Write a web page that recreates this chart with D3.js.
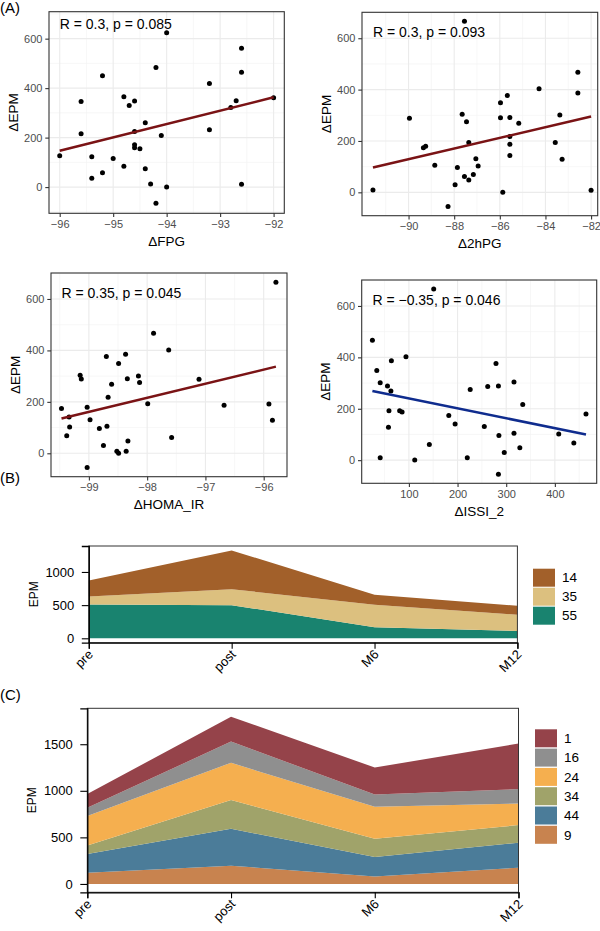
<!DOCTYPE html>
<html><head><meta charset="utf-8">
<script src="https://cdn.jsdelivr.net/npm/d3@7"></script>
<style>
body{margin:0;background:#fff}
svg{display:block}
text{font-family:"Liberation Sans", Arial, Helvetica, sans-serif}
</style>
</head><body>
<svg id="chart" width="600" height="931"></svg>
<script>
// ---------------- DATA ----------------
// Panel A scatter data (ΔEPM vs clinical deltas)
const fpgX = [-96.0,-95.6,-95.6,-95.4,-95.4,-95.2,-95.2,-95.0,-94.8,-94.8,-94.7,-94.6,-94.6,-94.6,-94.6,-94.5,-94.4,-94.4,-94.3,-94.2,-94.2,-94.1,-94.0,-94.0,-93.2,-93.2,-92.8,-92.7,-92.6,-92.6,-92.6,-92.0];
const fpgY = [127,346,216,123,36,450,58,116,365,84,330,348,225,171,159,155,260,74,12,483,-65,209,624,0,419,232,322,349,561,464,11,361];
const hpgX = [-91.56,-89.96,-89.35,-89.25,-88.85,-88.27,-87.96,-87.86,-87.65,-87.55,-87.55,-87.46,-87.36,-87.36,-87.16,-87.05,-86.95,-85.97,-85.97,-85.87,-85.67,-85.56,-85.56,-85.56,-85.56,-85.17,-84.28,-83.57,-83.37,-83.27,-82.58,-82.58,-82.0];
const hpgY = [9,288,174,179,105,-55,30,97,304,666,62,275,194,48,69,131,103,349,290,0,377,291,217,187,143,269,403,194,301,129,468,387,8];
const homaX = [-99.47,-99.38,-99.34,-99.33,-99.15,-99.13,-99.03,-98.98,-98.82,-98.75,-98.70,-98.69,-98.67,-98.61,-98.52,-98.49,-98.49,-98.37,-98.36,-98.34,-98.33,-98.15,-98.13,-97.99,-97.89,-97.63,-97.58,-97.11,-96.68,-95.91,-95.85,-95.79,-99.03];
const homaY = [174,68,141,102,303,289,179,130,96,30,376,105,218,268,8,349,0,385,8,290,48,301,275,193,467,402,61,288,187,192,128,665,-55];
const issiX = [25,34,41,41,56,59,58,63,64,81,86,94,112,142,151,182,195,220,226,255,262,279,284,285,296,316,316,328,334,408,439,464,284];
const issiY = [467,349,301,9,289,192,128,269,387,192,187,402,1,61,666,174,141,9,275,131,287,376,289,96,30,304,105,48,217,102,67,180,-55];

// fitted line values (ΔEPM at min and max of x)
const fpgFit = [147, 363];
const hpgFit = [97, 295];
const homaFit = [135, 337];
const issiFit = [269, 100];

const corrLabels = ["R = 0.3, p = 0.085", "R = 0.3, p = 0.093", "R = 0.35, p = 0.045", "R = \u22120.35, p = 0.046"];
const xTitles = ["\u0394FPG", "\u03942hPG", "\u0394HOMA_IR", "\u0394ISSI_2"];
const fpgTicks = [-96,-95,-94,-93,-92];
const hpgTicks = [-90,-88,-86,-84,-82];
const homaTicks = [-99,-98,-97,-96];
const issiTicks = [100,200,300,400];
const epmTicks = [0,200,400,600];

// Panels B & C
const timepoints = ["pre","post","M6","M12"];
const bKeys = ["55","35","14"];          // stacking order bottom -> top
const b55 = [510, 500, 165, 110];
const b35 = [120, 240, 340, 245];
const b14 = [240, 585, 150, 135];
const bLegend = ["14","35","55"];

const cKeys = ["9","44","34","24","16","1"];
const c9  = [121, 196, 79, 175];
const c44 = [200, 397, 210, 268];
const c34 = [93, 307, 197, 189];
const c24 = [315, 400, 342, 232];
const c16 = [89, 228, 133, 154];
const c1  = [147, 268, 289, 489];
const cLegend = ["1","16","24","34","44","9"];
const bTicks = [0,500,1000];
const cTicks = [0,500,1000,1500];

// ---------------- DRAW ----------------
const svg = d3.select("#chart");
const minus = s => String(s).replace("-", "\u2212");

function scatter(p) {
  const x = d3.scaleLinear().domain(p.xDomain).range([p.left, p.right]);
  const y = d3.scaleLinear().domain(p.yDomain).range([p.bottom, p.top]);
  const g = svg.append("g");
  g.append("rect").attr("x", p.left).attr("y", p.top).attr("width", p.right - p.left)
    .attr("height", p.bottom - p.top).attr("fill", "#fff");
  const minor = (ticks, dom) => {
    const step = ticks[1] - ticks[0], out = [];
    for (let t = ticks[0] - step * 3.5; t <= dom[1]; t += step) if (t >= dom[0]) out.push(t);
    return out;
  };
  const xMinor = minor(p.xTicks, p.xDomain), yMinor = minor(p.yTicks, p.yDomain);
  g.selectAll(".vmin").data(xMinor).join("line").attr("x1", d => x(d)).attr("x2", d => x(d))
    .attr("y1", p.top).attr("y2", p.bottom).attr("stroke", "#F3F3F3").attr("stroke-width", 0.7);
  g.selectAll(".hmin").data(yMinor).join("line").attr("y1", d => y(d)).attr("y2", d => y(d))
    .attr("x1", p.left).attr("x2", p.right).attr("stroke", "#F3F3F3").attr("stroke-width", 0.7);
  g.selectAll(".vmaj").data(p.xTicks).join("line").attr("x1", d => x(d)).attr("x2", d => x(d))
    .attr("y1", p.top).attr("y2", p.bottom).attr("stroke", "#EBEBEB").attr("stroke-width", 1.1);
  g.selectAll(".hmaj").data(p.yTicks).join("line").attr("y1", d => y(d)).attr("y2", d => y(d))
    .attr("x1", p.left).attr("x2", p.right).attr("stroke", "#EBEBEB").attr("stroke-width", 1.1);

  g.selectAll("circle").data(d3.range(p.xs.length)).join("circle")
    .attr("cx", i => x(p.xs[i])).attr("cy", i => y(p.ys[i])).attr("r", 2.5).attr("fill", "#000");

  const ext = d3.extent(p.xs);
  g.append("line").attr("x1", x(ext[0])).attr("y1", y(p.fit[0])).attr("x2", x(ext[1])).attr("y2", y(p.fit[1]))
    .attr("stroke", p.fitColor).attr("stroke-width", 2.5);

  g.append("text").attr("x", x(ext[0])).attr("y", y(p.labelY)).attr("dy", "0.35em")
    .attr("font-size", 14).attr("fill", "#000").text(p.label);

  g.append("rect").attr("x", p.left).attr("y", p.top).attr("width", p.right - p.left)
    .attr("height", p.bottom - p.top).attr("fill", "none").attr("stroke", "#333").attr("stroke-width", 1.1);

  const ax = g.append("g").attr("transform", `translate(0,${p.bottom})`)
    .call(d3.axisBottom(x).tickValues(p.xTicks).tickSize(3.7).tickPadding(2.9).tickFormat(minus));
  const ay = g.append("g").attr("transform", `translate(${p.left},0)`)
    .call(d3.axisLeft(y).tickValues(p.yTicks).tickSize(3.7).tickPadding(2.9).tickFormat(minus));
  [ax, ay].forEach(a => {
    a.select(".domain").remove();
    a.selectAll(".tick line").attr("stroke", "#333").attr("stroke-width", 1.1);
    a.selectAll(".tick text").attr("fill", "#4D4D4D").attr("font-size", 11)
      .style("font-family", '"Liberation Sans", Arial, sans-serif');
  });
  g.append("text").attr("x", (p.left + p.right) / 2).attr("y", p.bottom + 28).attr("dy", "0.35em")
    .attr("text-anchor", "middle").attr("font-size", 13.5).text(p.xTitle);
  g.append("text").attr("transform", `translate(${p.left - 36},${(p.top + p.bottom) / 2}) rotate(-90)`)
    .attr("dy", "0.35em").attr("text-anchor", "middle").attr("font-size", 13.5).text("\u0394EPM");
}

scatter({left: 49, right: 284.3, top: 11.7, bottom: 213.3, xDomain: [-96.2, -91.8], yDomain: [-106, 709],
  xs: fpgX, ys: fpgY, fit: fpgFit, fitColor: "#7A1315", xTicks: fpgTicks, yTicks: epmTicks,
  label: corrLabels[0], labelY: 660, xTitle: xTitles[0]});
scatter({left: 362, right: 597.7, top: 12.3, bottom: 215.7, xDomain: [-92.04, -81.71], yDomain: [-91, 701],
  xs: hpgX, ys: hpgY, fit: hpgFit, fitColor: "#7A1315", xTicks: hpgTicks, yTicks: epmTicks,
  label: corrLabels[1], labelY: 623, xTitle: xTitles[1]});
scatter({left: 51, right: 287, top: 273, bottom: 476.7, xDomain: [-99.65, -95.6], yDomain: [-91, 701],
  xs: homaX, ys: homaY, fit: homaFit, fitColor: "#7A1315", xTicks: homaTicks, yTicks: epmTicks,
  label: corrLabels[2], labelY: 623, xTitle: xTitles[2]});
scatter({left: 361.7, right: 596.7, top: 280, bottom: 483.3, xDomain: [3, 486], yDomain: [-90, 701],
  xs: issiX, ys: issiY, fit: issiFit, fitColor: "#0F2C8E", xTicks: issiTicks, yTicks: epmTicks,
  label: corrLabels[3], labelY: 623, xTitle: xTitles[3]});

function stacked(p) {
  const x = d3.scalePoint().domain(timepoints).range([p.left, p.right]).padding(0);
  const rows = timepoints.map((t, i) => {
    const r = {t};
    p.keys.forEach((k, j) => r[k] = p.values[j][i]);
    return r;
  });
  const series = d3.stack().keys(p.keys)(rows);
  const maxV = d3.max(series[series.length - 1], d => d[1]);
  const y = d3.scaleLinear().domain([-0.05 * maxV, 1.05 * maxV]).range([p.bottom, p.top]);
  const g = svg.append("g");
  const area = d3.area().x(d => x(d.data.t)).y0(d => y(d[0])).y1(d => y(d[1]));
  g.selectAll("path.layer").data(series).join("path").attr("class", "layer")
    .attr("d", area).attr("fill", d => p.colors[d.key]);
  g.append("rect").attr("x", p.left).attr("y", p.top).attr("width", p.right - p.left)
    .attr("height", p.bottom - p.top).attr("fill", "none").attr("stroke", "#333").attr("stroke-width", 1);

  const ay = g.append("g").attr("transform", `translate(${p.left},0)`)
    .call(d3.axisLeft(y).tickValues(p.yTicks).tickSize(7).tickPadding(7.5).tickFormat(d3.format("d")));
  ay.select(".domain").attr("stroke", "#000").attr("stroke-width", 1.3);
  ay.selectAll(".tick line").attr("stroke", "#000").attr("stroke-width", 1.1);
  ay.selectAll(".tick text").attr("fill", "#000").attr("font-size", 13)
    .style("font-family", '"Liberation Sans", Arial, sans-serif');

  const ax = g.append("g").attr("transform", `translate(0,${p.bottom})`)
    .call(d3.axisBottom(x).tickSize(6).tickPadding(0));
  ax.select(".domain").attr("stroke", "#000").attr("stroke-width", 1.3);
  ax.selectAll(".tick line").attr("stroke", "#000").attr("stroke-width", 1.1);
  ax.selectAll(".tick text").attr("fill", "#000").attr("font-size", 13)
    .style("font-family", '"Liberation Sans", Arial, sans-serif')
    .attr("text-anchor", "end").attr("dy", null).attr("y", null)
    .attr("transform", "translate(4.5,12.5) rotate(-45)");

  g.append("text").attr("transform", `translate(${p.titleX},${(p.top + p.bottom) / 2}) rotate(-90)`)
    .attr("dy", "0.35em").attr("text-anchor", "middle").attr("font-size", 12).text("EPM");

  const lg = g.append("g");
  p.legend.forEach((k, i) => {
    const ky = p.legTop + i * p.legStep;
    lg.append("rect").attr("x", p.legX).attr("y", ky).attr("width", 22).attr("height", 18)
      .attr("fill", p.colors[k]);
    lg.append("text").attr("x", p.legX + 29).attr("y", ky + 9).attr("dy", "0.35em")
      .attr("font-size", 13.5).text(k);
  });
  svg.append("text").attr("x", 0).attr("y", p.tagY).attr("font-size", 15).text(p.tag);
}

stacked({left: 88.8, right: 517.4, top: 546, bottom: 642.7, keys: bKeys, values: [b55, b35, b14],
  colors: {"14": "#A2602A", "35": "#DCC07F", "55": "#19836F"}, yTicks: bTicks, titleX: 34,
  legend: bLegend, legX: 533, legTop: 568.7, legStep: 19, tag: "(B)", tagY: 483});
stacked({left: 87.3, right: 518.5, top: 708.3, bottom: 892.3, keys: cKeys, values: [c9, c44, c34, c24, c16, c1],
  colors: {"1": "#95434A", "16": "#8F8F8F", "24": "#F5AF4F", "34": "#A0A36A", "44": "#4B7C99", "9": "#C8834F"},
  yTicks: cTicks, titleX: 32, legend: cLegend, legX: 535, legTop: 729.3, legStep: 19.3, tag: "(C)", tagY: 700});

svg.append("text").attr("x", 0).attr("y", 13).attr("font-size", 15).text("(A)");
</script>
</body></html>
